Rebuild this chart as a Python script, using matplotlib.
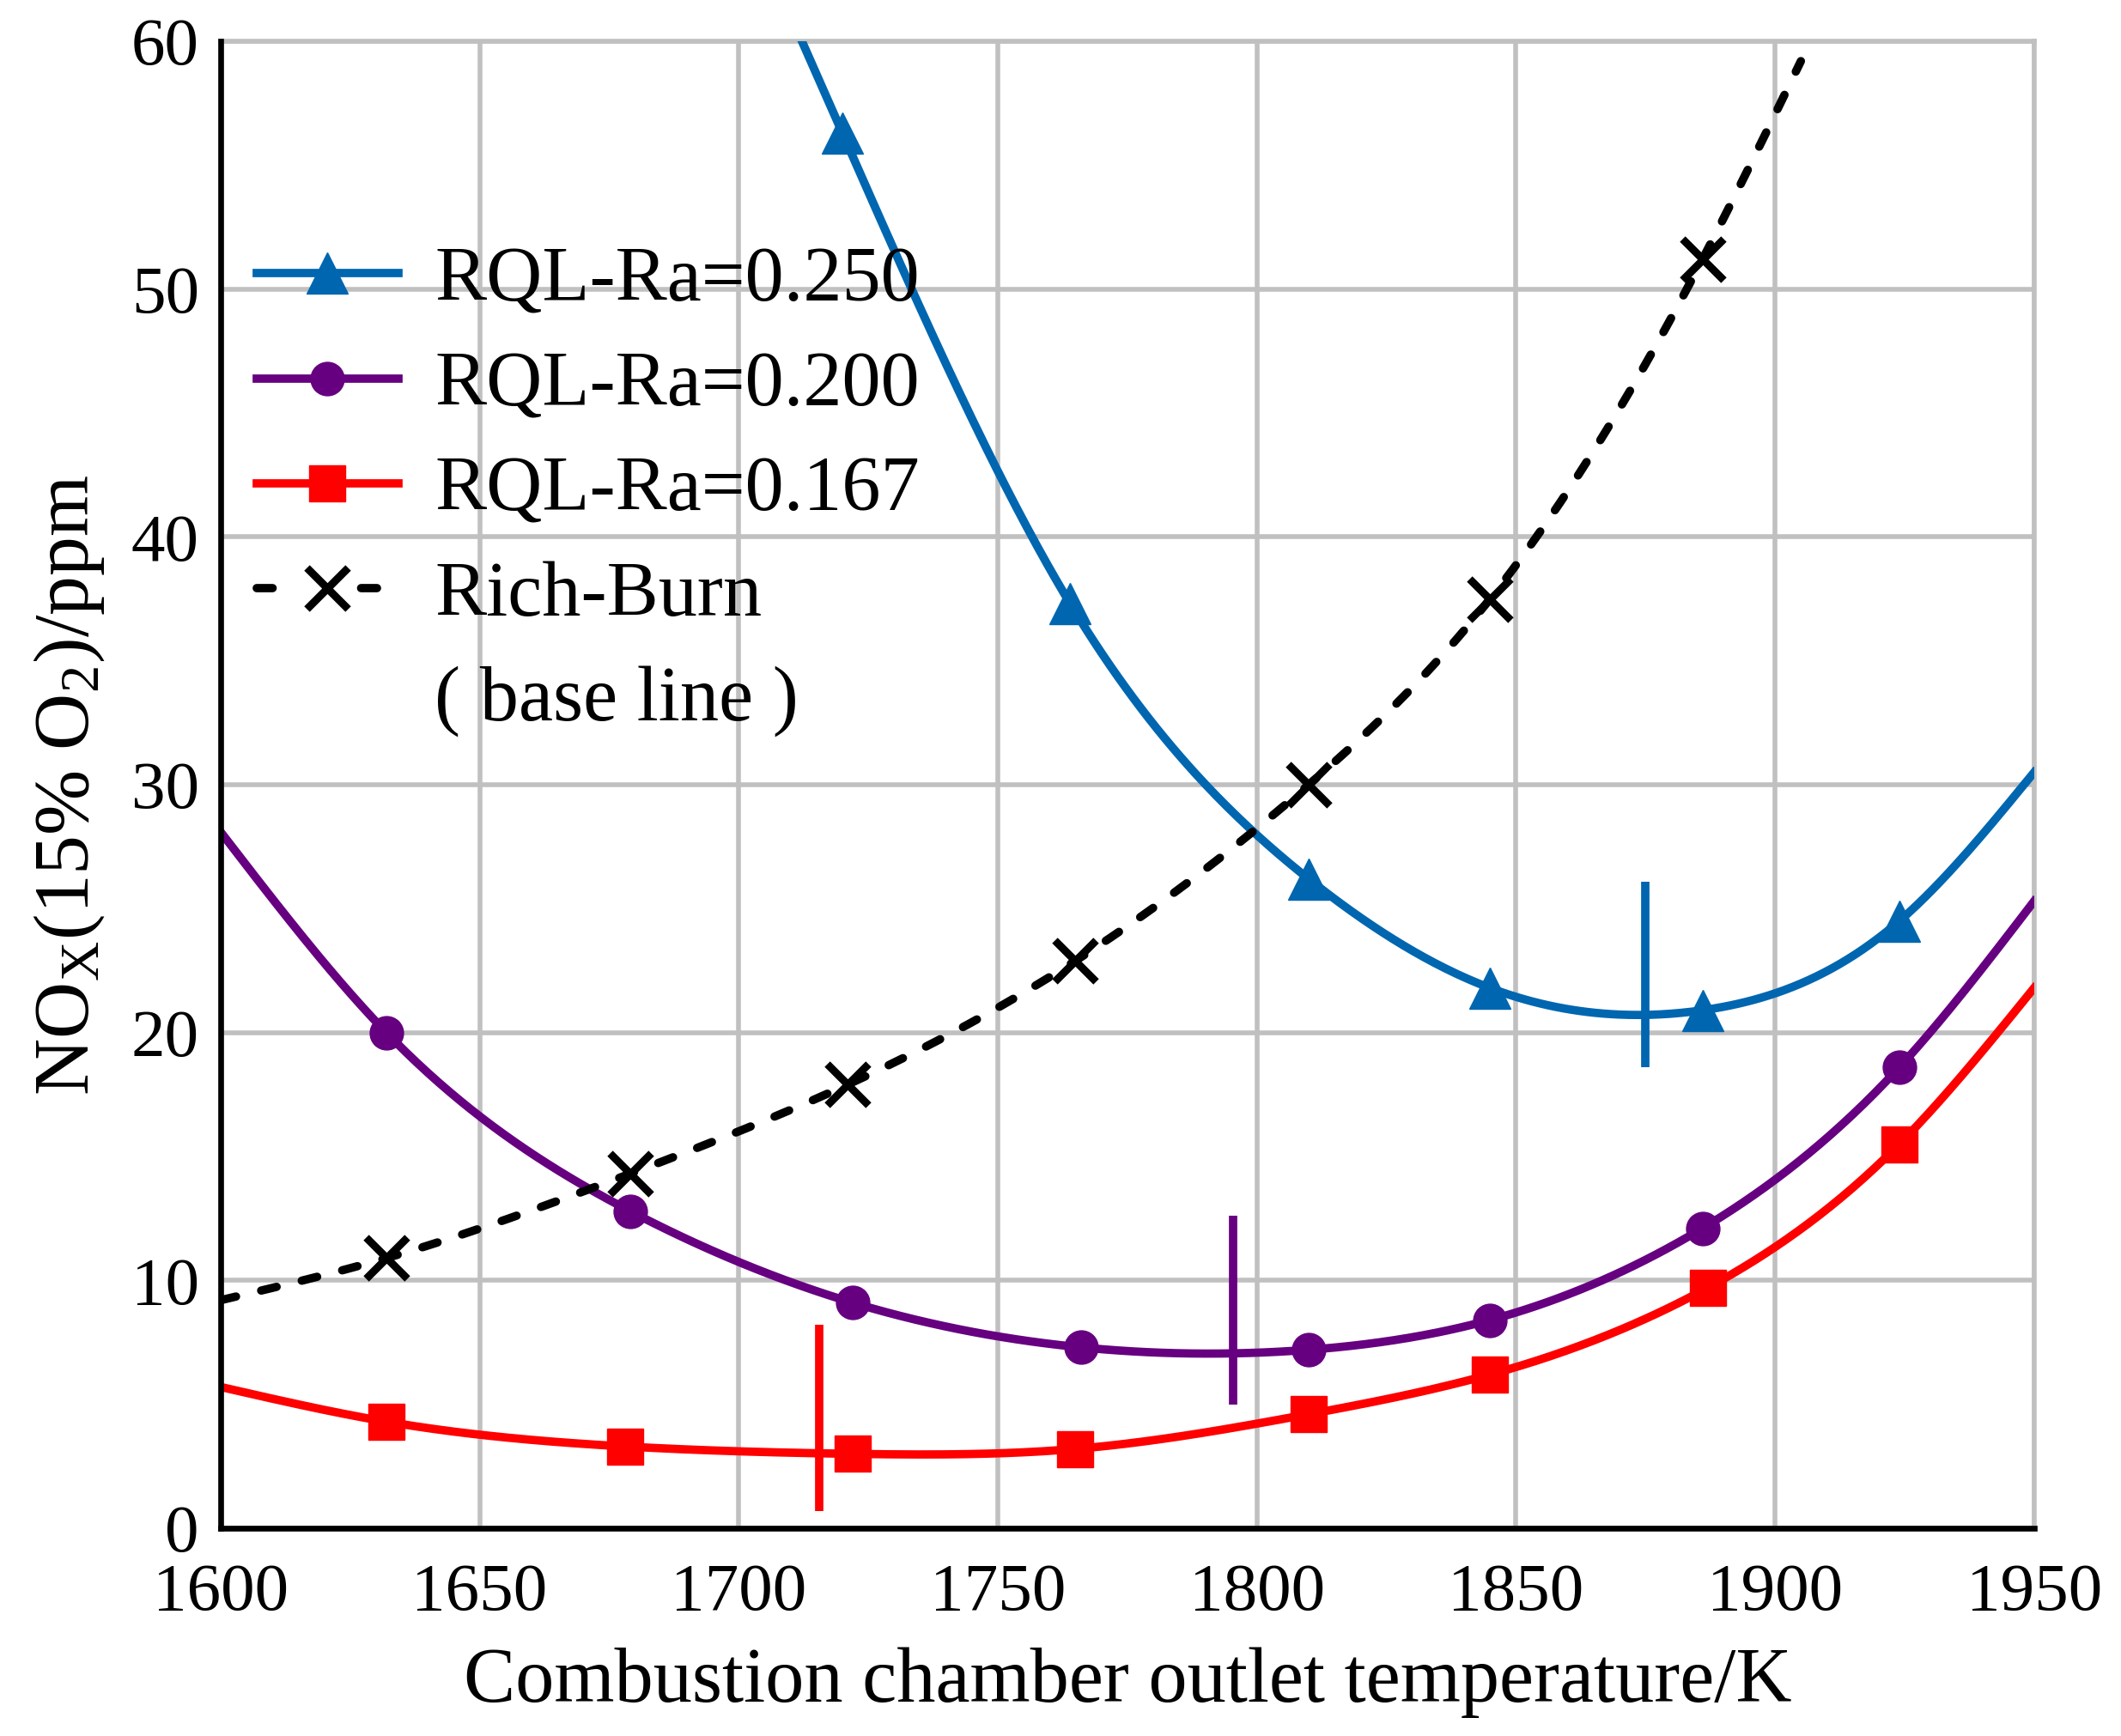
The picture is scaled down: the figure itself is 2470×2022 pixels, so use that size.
import numpy as np
import matplotlib
matplotlib.use("Agg")
import matplotlib.pyplot as plt
from matplotlib.lines import Line2D

plt.rcParams['font.family'] = ['Liberation Serif', 'Noto Sans CJK SC', 'DejaVu Sans']
plt.rcParams['mathtext.fontset'] = 'custom'
plt.rcParams['mathtext.rm'] = 'Liberation Serif'
plt.rcParams['mathtext.it'] = 'Liberation Serif:italic'

# ---- data ----
x_ra250 = [1720, 1764, 1810, 1845, 1886, 1924]
y_ra250 = [56.3, 37.3, 26.2, 21.8, 20.9, 24.5]
end_ra250 = (1950, 30.5)

x_ra200 = [1632, 1679, 1722, 1766, 1810, 1845, 1886, 1924]
y_ra200 = [20.0, 12.8, 9.1, 7.3, 7.2, 8.4, 12.1, 18.6]
start_ra200 = (1600, 28.1)
end_ra200 = (1950, 25.3)

x_ra167 = [1632, 1678, 1722, 1765, 1810, 1845, 1887, 1924]
y_ra167 = [4.3, 3.3, 3.0, 3.2, 4.6, 6.2, 9.7, 15.5]
start_ra167 = (1600, 5.7)
end_ra167 = (1950, 21.8)

x_rich = [1632, 1679, 1721, 1765, 1810, 1845, 1886]
y_rich = [10.9, 14.3, 17.9, 22.9, 30.0, 37.5, 51.2]
start_rich = (1600, 9.2)
end_rich = (1905, 59.2)

# optimum markers (vertical bars): x, y_low, y_high
opt_x = [1875, 1795.5, 1715.5]
opt_ylo = [18.6, 5.0, 0.7]
opt_yhi = [26.1, 12.6, 8.2]

labels = ['RQL-Ra=0.250', 'RQL-Ra=0.200', 'RQL-Ra=0.167', 'Rich-Burn', '( base line )']
colors = ['#0066b0', '#660080', '#ff0000', '#000000']

x_ticks = [1600, 1650, 1700, 1750, 1800, 1850, 1900, 1950]
y_ticks = [0, 10, 20, 30, 40, 50, 60]


def natural_spline(xk, yk, xs):
    xk = np.asarray(xk, float); yk = np.asarray(yk, float)
    n = len(xk)
    h = np.diff(xk)
    A = np.zeros((n, n)); b = np.zeros(n)
    A[0, 0] = 1; A[-1, -1] = 1
    for i in range(1, n - 1):
        A[i, i - 1] = h[i - 1]
        A[i, i] = 2 * (h[i - 1] + h[i])
        A[i, i + 1] = h[i]
        b[i] = 3 * ((yk[i + 1] - yk[i]) / h[i] - (yk[i] - yk[i - 1]) / h[i - 1])
    c = np.linalg.solve(A, b)
    bb = np.zeros(n - 1); d = np.zeros(n - 1)
    for i in range(n - 1):
        bb[i] = (yk[i + 1] - yk[i]) / h[i] - h[i] * (2 * c[i] + c[i + 1]) / 3
        d[i] = (c[i + 1] - c[i]) / (3 * h[i])
    xs = np.asarray(xs, float)
    idx = np.clip(np.searchsorted(xk, xs) - 1, 0, n - 2)
    dx = xs - xk[idx]
    out = yk[idx] + bb[idx] * dx + c[idx] * dx ** 2 + d[idx] * dx ** 3
    left = xs < xk[0]
    out[left] = yk[0] + bb[0] * (xs[left] - xk[0])
    return out


fig = plt.figure(figsize=(24.7, 20.22), dpi=100)
ax = fig.add_axes([0.104, 0.1197, 0.855, 0.8565])

lw = 7
dash = (0, (1.9, 3.1))
ms_tri, ms_o, ms_s, ms_x, mew_x = 34, 28, 30, 34, 6.5

# blue
kx = x_ra250 + [end_ra250[0]]
ky = y_ra250 + [end_ra250[1]]
xs = np.linspace(1700, 1950, 500)
ax.plot(xs, natural_spline(kx, ky, xs), color=colors[0], lw=lw, zorder=3)
ax.plot(x_ra250, y_ra250, ls='none', marker='^', ms=ms_tri, color=colors[0], zorder=4)

# purple
kx = [start_ra200[0]] + x_ra200 + [end_ra200[0]]
ky = [start_ra200[1]] + y_ra200 + [end_ra200[1]]
xs = np.linspace(1600, 1950, 500)
ax.plot(xs, natural_spline(kx, ky, xs), color=colors[1], lw=lw, zorder=3)
ax.plot(x_ra200, y_ra200, ls='none', marker='o', ms=ms_o, color=colors[1], zorder=4)

# red
kx = [start_ra167[0]] + x_ra167 + [end_ra167[0]]
ky = [start_ra167[1]] + y_ra167 + [end_ra167[1]]
ax.plot(xs, natural_spline(kx, ky, xs), color=colors[2], lw=lw, zorder=3)
ax.plot(x_ra167, y_ra167, ls='none', marker='s', ms=ms_s, color=colors[2], zorder=4)

# black dashed
kx = [start_rich[0]] + x_rich + [end_rich[0]]
ky = [start_rich[1]] + y_rich + [end_rich[1]]
xs2 = np.linspace(1600, end_rich[0], 500)
ax.plot(xs2, natural_spline(kx, ky, xs2), color=colors[3], lw=lw, ls=dash,
        dash_capstyle='round', zorder=3)
ax.plot(x_rich, y_rich, ls='none', marker='x', ms=ms_x, mew=mew_x, color=colors[3], zorder=4)

# optimum bars
for xo, lo, hi, c in zip(opt_x, opt_ylo, opt_yhi, colors[:3]):
    ax.vlines(xo, lo, hi, color=c, lw=lw, zorder=3)

ax.set_xlim(1600, 1950)
ax.set_ylim(0, 60)
ax.set_xticks(x_ticks)
ax.set_yticks(y_ticks)
ax.grid(True, color='#c0c0c0', lw=4, zorder=0)
ax.set_axisbelow(True)
ax.tick_params(length=0, labelsize=57)
ax.tick_params(axis='x', pad=29)
ax.tick_params(axis='y', pad=18)
for s in ['left', 'bottom']:
    ax.spines[s].set_linewidth(4.8)
    ax.spines[s].set_color('black')
    ax.spines[s].set_zorder(5)
for s in ['top', 'right']:
    ax.spines[s].set_linewidth(4)
    ax.spines[s].set_color('#c0c0c0')

ax.set_xlabel('Combustion chamber outlet temperature/K', fontsize=65)
ax.set_ylabel(r'NO$_\mathrm{X}$(15% O$_2$)/ppm', fontsize=66)
ax.yaxis.set_label_coords(-0.063, 0.5)
ax.xaxis.set_label_coords(0.5, -0.080)

handles = [
    Line2D([], [], color=colors[0], lw=lw, marker='^', ms=ms_tri),
    Line2D([], [], color=colors[1], lw=lw, marker='o', ms=ms_o),
    Line2D([], [], color=colors[2], lw=lw, marker='s', ms=ms_s),
    Line2D([], [], color=colors[3], lw=lw, ls=(0, (1.9, 10.6)), dash_capstyle='round',
           marker='x', ms=ms_x, mew=mew_x),
    Line2D([], [], color='none', lw=0),
]
leg = ax.legend(handles, labels, loc='upper left', bbox_to_anchor=(0.007, 0.878),
                frameon=False, fontsize=65, handlelength=1.83, handletextpad=0.47,
                labelspacing=0.44, borderpad=0, borderaxespad=0.3)
leg.set_zorder(6)

fig.savefig('out.png', dpi=100)
